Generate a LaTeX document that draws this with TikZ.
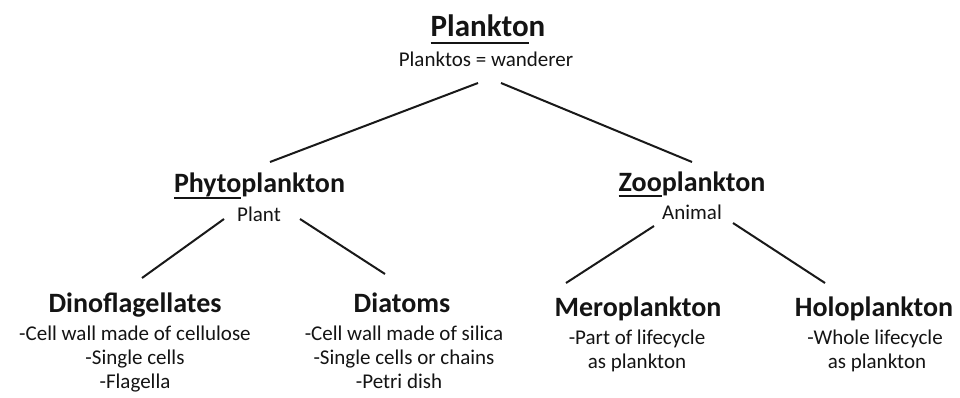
\documentclass[tikz,border=0pt]{standalone}
\usepackage{fontspec}
\setmainfont{Carlito}
\newcommand\myul[3]{\setbox0\hbox{#1}\rlap{\rule[-#2]{\wd0}{#3}}\box0}
\begin{document}
\begin{tikzpicture}[x=1pt,y=-1pt,
  title/.style={font=\fontsize{31}{36}\selectfont\bfseries, anchor=base, inner sep=0pt, text=black!92},
  head/.style={font=\fontsize{28}{33}\selectfont\bfseries, anchor=base, inner sep=0pt, text=black!92},
  txt/.style={font=\fontsize{21}{24}\selectfont, anchor=base, inner sep=0pt, text=black!92},
  conn/.style={line width=2pt, black!90}]
\useasboundingbox[fill=white] (0,0) rectangle (960,398);
% top
\node[title] (plankton) at (488,37) {\myul{Plankto}{7pt}{2.4pt}n};
\node[txt] (wanderer) at (486,67) {Planktos = wanderer};
% level 2
\node[head] (phyto) at (259.5,193) {\myul{Phyto}{6pt}{2pt}plankton};
\node[txt] (plant) at (259,221) {Plant};
\node[head] (zoo) at (692,192) {\myul{Zoo}{5.5pt}{2pt}plankton};
\node[txt] (animal) at (692,219) {Animal};
% level 3
\node[head] (dino) at (135,312) {Dinoflagellates};
\node[txt] (dinoA) at (135,340) {-Cell wall made of cellulose};
\node[txt] (dinoB) at (135,364) {-Single cells};
\node[txt] (dinoC) at (135,388) {-Flagella};
\node[head] (diat) at (402,312) {Diatoms};
\node[txt] (diatA) at (404,340) {-Cell wall made of silica};
\node[txt] (diatB) at (404,364) {-Single cells or chains};
\node[txt] (diatC) at (399,388) {-Petri dish};
\node[head] (mero) at (638,316) {Meroplankton};
\node[txt] (meroA) at (637,344) {-Part of lifecycle};
\node[txt] (meroB) at (637,368) {as plankton};
\node[head] (holo) at (874,316) {Holoplankton};
\node[txt] (holoA) at (875,344) {-Whole lifecycle};
\node[txt] (holoB) at (877,368) {as plankton};
% connector end points
\coordinate (wL) at (478,83);
\coordinate (wR) at (501,83);
\coordinate (phT) at (270,162);
\coordinate (zoT) at (692,162);
\coordinate (plL) at (224,219);
\coordinate (plR) at (300,219);
\coordinate (diT) at (142,278);
\coordinate (daT) at (385,274);
\coordinate (anL) at (654,226);
\coordinate (anR) at (733,223);
\coordinate (meT) at (566,283);
\coordinate (hoT) at (825,283);
\draw[conn] (wL) -- (phT);
\draw[conn] (wR) -- (zoT);
\draw[conn] (plL) -- (diT);
\draw[conn] (plR) -- (daT);
\draw[conn] (anL) -- (meT);
\draw[conn] (anR) -- (hoT);
\end{tikzpicture}
\end{document}
